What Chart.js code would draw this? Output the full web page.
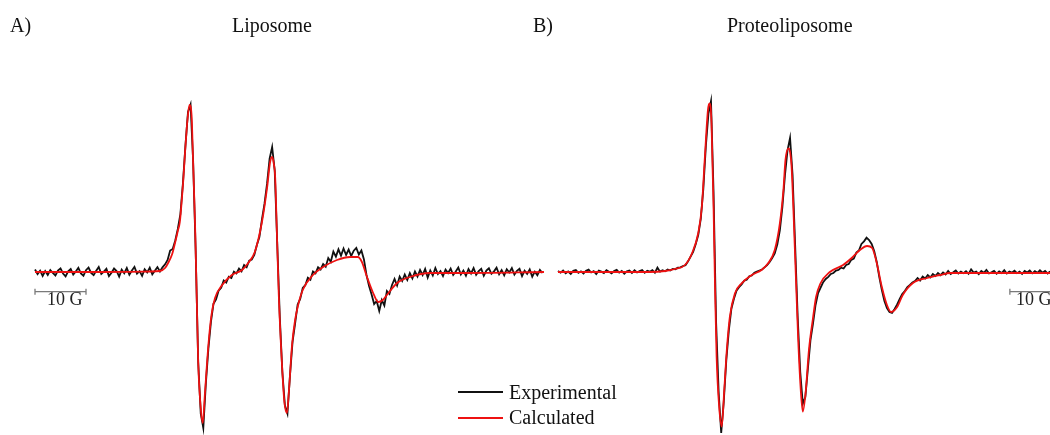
<!DOCTYPE html>
<html>
<head>
<meta charset="utf-8">
<script src="https://cdn.jsdelivr.net/npm/chart.js@4.4.1/dist/chart.umd.min.js"></script>
<style>
  html, body { margin:0; padding:0; background:#fff; }
  #wrap { position:relative; width:1050px; height:435px; overflow:hidden; }
  #epr { position:absolute; left:0; top:0; }
  .lbl { position:absolute; font-family:"Liberation Serif","Times New Roman",serif; font-size:20px; line-height:20px; color:#111; white-space:nowrap; }
  .bar { font-size:18px; line-height:18px; color:#222; }
  .key { position:absolute; left:458px; width:45px; height:2px; }
</style>
</head>
<body>
<div id="wrap">
  <canvas id="epr" width="1050" height="435"></canvas>
  <div class="lbl" style="left:10px;top:15px">A)</div>
  <div class="lbl" style="left:232px;top:15px">Liposome</div>
  <div class="lbl" style="left:533px;top:15px">B)</div>
  <div class="lbl" style="left:727px;top:15px">Proteoliposome</div>
  <div class="lbl bar" style="left:47px;top:290px">10 G</div>
  <div class="lbl bar" style="left:1016px;top:290px">10 G</div>
  <div class="key" style="top:391px;background:#111"></div>
  <div class="lbl" style="left:509px;top:382px">Experimental</div>
  <div class="key" style="top:417px;background:#ee1111"></div>
  <div class="lbl" style="left:509px;top:407px">Calculated</div>
</div>
<script>
// EPR spectra, field in G (from start of sweep), intensity in a.u. (baseline = 0)
const fieldStep = 0.5;

// A) Liposome — experimental, one value every 0.5 G
const expA = [
  1.5, -1.2, 0.8, -2.4, 0.6, -1.8, 1.2, -0.6, -2.1, 0.9,
  2.2, -0.9, -2.6, 0.4, 1.8, -1.5, 0.3, 2.5, -0.8, -2.2,
  1.1, 2.7, -0.5, -1.9, 0.7, 3.0, -1.2, 0.2, 1.9, -2.5,
  -0.4, 2.1, 0.6, -2.8, 1.4, -0.7, 2.4, -1.6, 0.9, 3.1,
  -1.0, 0.5, -2.3, 1.7, -0.2, 2.6, -1.4, 0.8, 2.9, 0.3,
  2.8, 4.6, 7.2, 12.9, 13.8, 18.9, 25.8, 34.5, 53, 76,
  96, 100.5, 67, 13, -54, -85, -93.6, -67, -46, -30,
  -19, -16.5, -11.2, -9.5, -5.1, -6.3, -2.8, -3.6, 0.2, -0.9,
  2.1, 0.4, 4.2, 2.9, 6.8, 7.5, 10.3, 16.2, 21, 31.5,
  41, 53, 68, 75, 61, 17, -27, -60, -80, -85,
  -62, -42, -31, -19.5, -16.2, -9.6, -7.9, -3.4, -4.6, 0.3,
  -0.8, 2.9, 1.5, 4.8, 3.2, 8.4, 6.1, 12.3, 9.2, 13.6,
  9.8, 14.1, 10.2, 13.5, 9.6, 12.8, 14.4, 10.5, 12.9, 7.5,
  -1.8, -8.4, -13.5, -19.2, -17.4, -23.4, -16.8, -20.1, -11.4, -13.2,
  -7.8, -4.2, -8.1, -2.7, -5.4, -1.5, -4.8, -0.6, -3.9, 0.3,
  -2.7, 1.2, -1.8, 1.9, -3.3, 0.9, -2.1, 2.4, -1.2, 0.6,
  -2.4, 1.5, -0.6, 2.1, -1.8, 0.3, 2.7, -1.5, 0.9, -2.2,
  1.8, -0.9, 2.4, -1.7, 0.5, 1.9, -2.3, 0.8, 2.2, -1.1,
  0.4, 2.6, -1.4, 1.1, -2.0, 1.7, -0.3, 2.3, -1.6, 0.7,
  1.9, -2.5, 0.8, -1.1, 1.6, -2.8, 0.2, -1.9, 1.3, -0.6
];

// A) Liposome — calculated
const calcFieldA = [0, 12.7, 22.5, 24.5, 25.5, 26.1, 26.9, 27.5, 28.0, 28.4, 28.8, 29.1, 29.4, 29.75, 30.0, 30.3, 30.7, 31.0, 31.4, 31.7,
  32.0, 32.5, 32.9, 33.3, 34.0, 34.6, 35.3, 36.7, 38.6, 40.6, 41.8, 43.1, 44.5, 45.5, 46.1, 46.5, 46.8, 47.1, 47.4, 47.8,
  48.4, 48.9, 49.4, 49.8, 50.4, 51.0, 51.6, 52.5, 54.5, 56.5, 59.2, 61.8, 63.3, 64.1, 65.1, 66.3, 67.3, 68.2, 69.0, 71.0,
  73.5, 77.5, 84.7, 99.8];
const calcA = [0, 0, 0.3, 0.6, 2.4, 5.4, 10.8, 18, 24.6, 30, 44, 56.2, 71, 86.2, 94.5, 100.2, 94.2, 66, 26.4, -13.8,
  -54, -81.6, -90.6, -73.8, -43.8, -25.8, -15.6, -7.8, -1.8, 1.2, 5.4, 12, 30, 50.4, 66, 69, 65.5, 56.4, 26.4, -13.8,
  -54, -78, -84.6, -70.8, -43.8, -28.8, -19.8, -10.8, -1.8, 3, 7.2, 9, 9, 6, -3, -12.6, -18, -16.8, -13.8, -6.6,
  -3, -0.6, -0.6, 0];

// B) Proteoliposome — experimental, one value every 0.5 G
const expB = [
  0.6, -0.4, 0.9, -0.8, 0.3, -1.1, 0.7, 1.2, -0.5, 0.4,
  -0.9, 0.8, 1.4, -0.3, 0.5, -1.2, 0.9, 0.2, -0.7, 1.1,
  0.1, -0.8, 0.6, 1.3, -0.4, 0.7, -1.0, 0.4, 0.9, -0.6,
  1.0, -0.3, 0.5, 1.2, -0.5, 0.8, 0.2, 1.1, -0.4, 2.6,
  0.2, 1.0, 0.4, 1.5, 0.9, 1.9, 1.6, 2.6, 2.8, 3.6,
  4.0, 6.4, 9.2, 12.1, 16.6, 22.2, 32, 50, 76, 95,
  102.5, 48, -30, -72, -96.6, -78, -53, -35, -22, -16,
  -11.2, -9.1, -7.5, -5.2, -4.6, -2.5, -2.1, -0.4, 0.3, 0.9,
  1.5, 2.8, 4.1, 6.0, 8.4, 11.2, 16.5, 25, 39, 58,
  73, 80.5, 58, 16, -27, -60, -79, -75, -58, -41,
  -31, -19.8, -12.6, -9.3, -6.1, -4.2, -2.9, -1.2, -0.6, 0.9,
  1.2, 2.6, 2.1, 4.2, 4.8, 7.3, 8.1, 11.6, 12.9, 16.8,
  18.4, 20.6, 19.2, 16.8, 12.6, 6.0, -3.0, -10.8, -17.4, -21.6,
  -24.0, -24.6, -22.2, -19.5, -16.2, -13.2, -11.4, -9.0, -7.8, -6.3,
  -5.4, -3.6, -5.1, -2.7, -3.9, -1.8, -3.3, -1.2, -2.4, -0.6,
  -1.9, -0.3, -1.5, 0.6, -1.2, -0.2, 0.9, -0.9, 0.3, -0.7,
  0.5, -1.1, 1.6, -0.4, 0.2, -1.3, 0.6, -0.5, 1.2, -0.8,
  -0.2, 0.7, -1.0, 0.4, -0.6, 1.1, -0.9, 0.3, -0.4, 0.8,
  -0.7, 0.2, -1.2, 0.6, -0.3, 0.9, -0.8, 0.5, -0.5, 1.0,
  -0.4, 0.6, -0.9, 0.3
];

// B) Proteoliposome — calculated
const calcFieldB = [0, 18.0, 21.0, 22.9, 24.9, 26.3, 27.5, 28.2, 28.8, 29.4, 29.7, 29.9, 30.1, 30.5, 30.8, 31.1, 31.6, 32.1, 32.6, 33.1,
  33.7, 34.7, 36.0, 38.0, 39.9, 41.2, 42.5, 43.5, 44.2, 44.6, 45.2, 45.5, 45.8, 46.5, 47.1, 47.6, 48.0, 48.6, 49.2, 50.0,
  50.6, 51.4, 53.3, 55.9, 57.8, 59.2, 60.6, 61.6, 62.5, 63.5, 64.5, 65.3, 66.5, 67.6, 69.6, 72.4, 74.9, 76.9, 96.5];
const calcB = [0, 0, 0.6, 1.8, 4.2, 11.4, 23.4, 39, 69, 97.2, 101.2, 99.6, 89.2, 39.2, -10.8, -50.8, -80.8, -92.8, -70.8, -46.8,
  -26.8, -12.8, -6.8, -1.8, 1.2, 5.2, 13.2, 29.2, 49.2, 67.2, 74.2, 72, 63.2, 9.2, -40.8, -70.8, -83.8, -70.8, -46.8, -27.6,
  -15, -7.2, 0, 4.2, 9, 13.2, 15.6, 14.4, 5.4, -9, -19.8, -24, -21, -13.8, -6.6, -3.6, -1.8, -0.6, -0.6];

// 10 G scale bars (field range per panel) and their level
const scaleBarA = [0, 10];
const scaleBarB = [88.6, 98.6];
const scaleBarLevel = -11.8;

// layout: where each panel's sweep starts on the page, px per gauss
const pxPerG = 5.1, startA = 35, startB = 558, W = 1050;

const pts = (xs, ys) => ys.map((y, i) => ({ x: xs[i], y }));
const gridPts = ys => ys.map((y, i) => ({ x: i * fieldStep, y }));

const expStyle  = { borderColor:'#111', borderWidth:1.8, pointRadius:0, tension:0, order:1 };
const calcStyle = { borderColor:'#ee1111', borderWidth:1.8, pointRadius:0, cubicInterpolationMode:'monotone', order:0 };

const scaleBars = {
  id: 'scaleBars',
  afterDatasetsDraw(chart) {
    const ctx = chart.ctx;
    const y = chart.scales.y.getPixelForValue(scaleBarLevel);
    [['xA', scaleBarA], ['xB', scaleBarB]].forEach(([id, bar]) => {
      const s = chart.scales[id];
      const x0 = s.getPixelForValue(bar[0]), x1 = s.getPixelForValue(bar[1]);
      ctx.save();
      ctx.strokeStyle = '#7a7a7a'; ctx.lineWidth = 1.3;
      ctx.beginPath();
      ctx.moveTo(x0, y); ctx.lineTo(x1, y);
      ctx.moveTo(x0, y - 3); ctx.lineTo(x0, y + 3);
      ctx.moveTo(x1, y - 3); ctx.lineTo(x1, y + 3);
      ctx.stroke();
      ctx.restore();
    });
  }
};

new Chart(document.getElementById('epr'), {
  type: 'line',
  data: {
    datasets: [
      { label:'Experimental', data:gridPts(expA), xAxisID:'xA', ...expStyle },
      { label:'Calculated', data:pts(calcFieldA, calcA), xAxisID:'xA', ...calcStyle },
      { label:'Experimental', data:gridPts(expB), xAxisID:'xB', ...expStyle },
      { label:'Calculated', data:pts(calcFieldB, calcB), xAxisID:'xB', ...calcStyle },
    ],
  },
  options: {
    responsive:false, animation:false,
    layout: { padding:0 },
    plugins: { legend:{ display:false }, tooltip:{ enabled:false } },
    scales: {
      xA: { type:'linear', display:false, min:-startA / pxPerG, max:(W - startA) / pxPerG },
      xB: { type:'linear', display:false, min:-startB / pxPerG, max:(W - startB) / pxPerG },
      y:  { type:'linear', display:false, min:-97.8, max:163.2 },
    },
  },
  plugins: [scaleBars],
});
</script>
</body>
</html>
